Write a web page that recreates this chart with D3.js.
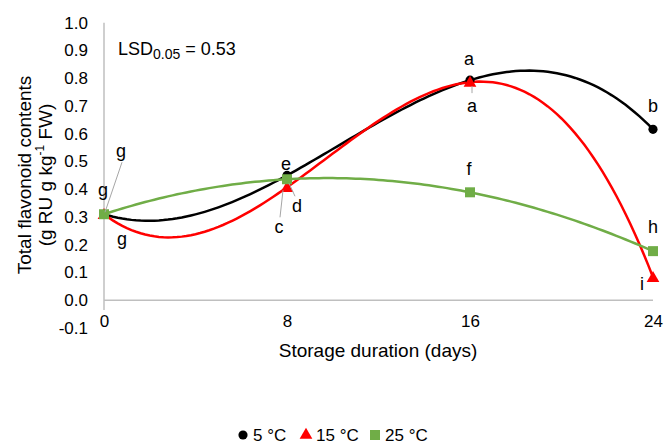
<!DOCTYPE html>
<html><head><meta charset="utf-8">
<script src="https://cdn.jsdelivr.net/npm/d3@7"></script>
<style>
  html,body{margin:0;padding:0;background:#fff;}
  svg text{font-family:"Liberation Sans",Arial,sans-serif;fill:#000;}
</style></head>
<body>
<svg id="chart" width="664" height="444"></svg>
<script>
// ---- data ----
const days = [0, 8, 16, 24];
const seriesNames = ["5 °C", "15 °C", "25 °C"];
const values5  = [0.31, 0.45, 0.793, 0.616];
const values15 = [0.31, 0.407, 0.786, 0.083];
const values25 = [0.31, 0.436, 0.389, 0.177];
const letters5  = ["g", "e", "a", "b"];
const letters15 = ["g", "c", "a", "i"];
const letters25 = ["g", "d", "f", "h"];
const yTicks = [-0.1, 0, 0.1, 0.2, 0.3, 0.4, 0.5, 0.6, 0.7, 0.8, 0.9, 1.0];
const xTicks = [0, 8, 16, 24];

// ---- styles / layout ----
const colors = ["#000000", "#ff0000", "#70ad47"];
const symbols = [d3.symbolCircle, d3.symbolTriangle, d3.symbolSquare];
const symSizes = [66, 70, 100];
// label placement (offset from point in px), leader lines [x1,y1,x2,y2] offsets
const labelLayout = [
  [{dx:-1,dy:-18},{dx:-1,dy:-5},{dx:-1,dy:-15},{dx:0,dy:-17}],
  [{dx:18,dy:31},{dx:-8,dy:46,lead:[-4,3,-7,30]},{dx:2,dy:30,lead:[2,4,2,11]},{dx:-11,dy:13}],
  [{dx:17,dy:-57,lead:[1,-2,18,-52]},{dx:10,dy:33,lead:[2,4,8,17]},{dx:-1,dy:-17},{dx:0,dy:-18}]
];

const svg = d3.select("#chart");
const x = d3.scaleLinear().domain([0, 24]).range([104, 653]);
const y = d3.scaleLinear().domain([-0.1, 1.0]).range([328, 22.75]);

// axes
const axisColor = "#bfbfbf";
svg.append("line").attr("x1", x(0)).attr("x2", x(0)).attr("y1", y(1.0)).attr("y2", 310)
  .attr("stroke", axisColor).attr("stroke-width", 1.5);
svg.append("line").attr("x1", x(0)).attr("x2", x(24)).attr("y1", y(0)).attr("y2", y(0))
  .attr("stroke", axisColor).attr("stroke-width", 1.5);

const fmtY = d => d3.format(".1f")(d).replace("\u2212", "-");
const yAxis = d3.axisLeft(y).tickValues(yTicks).tickFormat(fmtY).tickSize(0).tickPadding(0);
const gy = svg.append("g").attr("transform", "translate(88,0)").call(yAxis);
gy.select(".domain").remove();
gy.selectAll("text").attr("font-size", 17).attr("font-family", "Liberation Sans, Arial, sans-serif").attr("fill", "#000");

const xAxis = d3.axisBottom(x).tickValues(xTicks).tickFormat(d3.format("d")).tickSize(0).tickPadding(0);
const gx = svg.append("g").attr("transform", `translate(0,${y(0)+15})`).call(xAxis);
gx.select(".domain").remove();
gx.selectAll("text").attr("font-size", 17).attr("font-family", "Liberation Sans, Arial, sans-serif").attr("fill", "#000");

// axis titles
svg.append("text").attr("x", 378).attr("y", 357).attr("text-anchor", "middle")
  .attr("font-size", 19).text("Storage duration (days)");
const yt = svg.append("g").attr("transform", "translate(0,175) rotate(-90)");
yt.append("text").attr("x", 0).attr("y", 31).attr("text-anchor", "middle").attr("font-size", 19)
  .text("Total flavonoid contents");
const yt2 = yt.append("text").attr("x", 0).attr("y", 52).attr("text-anchor", "middle").attr("font-size", 19);
yt2.append("tspan").text("(g RU g kg");
yt2.append("tspan").attr("font-size", 12).attr("dy", -8).text("-1");
yt2.append("tspan").attr("dy", 8).text(" FW)");

// LSD annotation
const lsd = svg.append("text").attr("x", 118).attr("y", 55).attr("font-size", 18);
lsd.append("tspan").text("LSD");
lsd.append("tspan").attr("font-size", 14).attr("dy", 4).text("0.05");
lsd.append("tspan").attr("dy", -4).text(" = 0.53");

// polynomial (order 3) trendline fitted from the data, as in the source chart
function polyFit(xs, ys, order) {
  const n = order + 1;
  const A = Array.from({length:n}, () => new Array(n+1).fill(0));
  for (let i = 0; i < xs.length; i++) {
    for (let r = 0; r < n; r++) {
      for (let c = 0; c < n; c++) A[r][c] += Math.pow(xs[i], r + c);
      A[r][n] += ys[i] * Math.pow(xs[i], r);
    }
  }
  for (let c = 0; c < n; c++) {
    let p = c;
    for (let r = c+1; r < n; r++) if (Math.abs(A[r][c]) > Math.abs(A[p][c])) p = r;
    [A[c], A[p]] = [A[p], A[c]];
    for (let r = 0; r < n; r++) if (r !== c) {
      const f = A[r][c] / A[c][c];
      for (let k = c; k <= n; k++) A[r][k] -= f * A[c][k];
    }
  }
  const coef = A.map((row, i) => row[n] / row[i]);
  return t => coef.reduce((s, a, i) => s + a * Math.pow(t, i), 0);
}

const allValues = [values5, values15, values25];
const allLetters = [letters5, letters15, letters25];
const line = d3.line().x(d => x(d[0])).y(d => y(d[1]));
const tSamples = d3.range(0, 24.0001, 0.2);

allValues.forEach((vals, si) => {
  const f = polyFit(days, vals, 3);
  svg.append("path").attr("d", line(tSamples.map(t => [t, f(t)])))
    .attr("fill", "none").attr("stroke", colors[si]).attr("stroke-width", 2.5);
});

allValues.forEach((vals, si) => {
  svg.append("g").selectAll("path").data(days.map((d, i) => [d, vals[i]])).join("path")
    .attr("transform", d => `translate(${x(d[0])},${y(d[1]) + (si===1?1:0)})`)
    .attr("d", d3.symbol().type(symbols[si]).size(symSizes[si]))
    .attr("fill", colors[si]);
});

// letters + leader lines
allValues.forEach((vals, si) => {
  days.forEach((d, i) => {
    const px = x(d), py = y(vals[i]);
    const L = labelLayout[si][i];
    if (L.lead) {
      svg.append("line").attr("x1", px + L.lead[0]).attr("y1", py + L.lead[1])
        .attr("x2", px + L.lead[2]).attr("y2", py + L.lead[3])
        .attr("stroke", "#a6a6a6").attr("stroke-width", 1);
    }
    svg.append("text").attr("x", px + L.dx).attr("y", py + L.dy).attr("text-anchor", "middle")
      .attr("font-size", 18).text(allLetters[si][i]);
  });
});

// legend
const legendX = [243, 306, 375];
const leg = svg.append("g");
seriesNames.forEach((name, si) => {
  leg.append("path").attr("transform", `translate(${legendX[si]},${435})`)
    .attr("d", d3.symbol().type(symbols[si]).size(symSizes[si])).attr("fill", colors[si]);
  leg.append("text").attr("x", legendX[si] + 10).attr("y", 441).attr("font-size", 17).text(name);
});
</script>
</body></html>
